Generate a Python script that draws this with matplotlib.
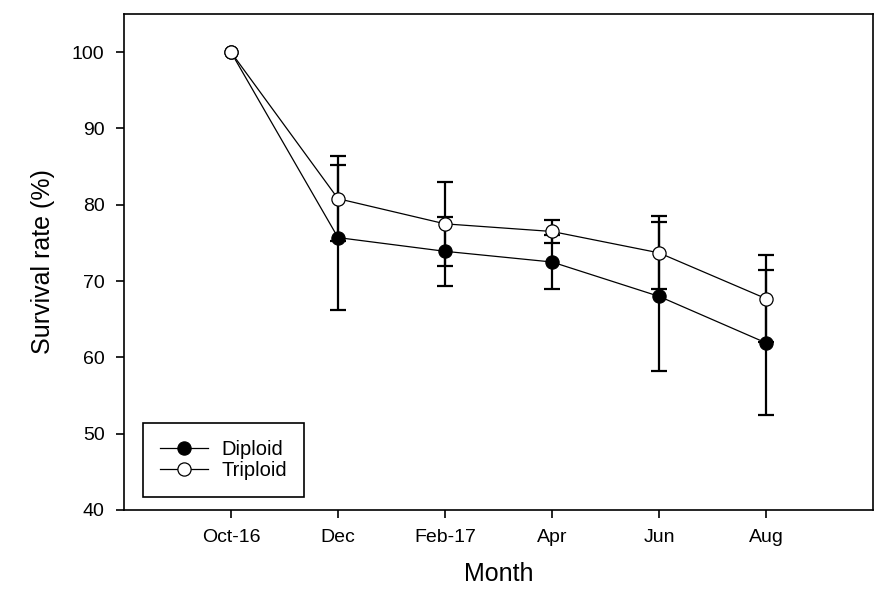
import matplotlib.pyplot as plt

plt.rcParams['font.family'] = ['Liberation Sans', 'DejaVu Sans']

months = ["Oct-16", "Dec", "Feb-17", "Apr", "Jun", "Aug"]
diploid = [100, 75.7, 73.9, 72.5, 68.0, 61.9]
diploid_err = [9.5, 4.5, 3.5, 9.8, 9.5]      # no bar at Oct-16
triploid = [100, 80.8, 77.5, 76.5, 73.7, 67.7]
triploid_err = [5.6, 5.5, 1.5, 4.8, 5.7]

x = list(range(len(months)))

fig = plt.figure(figsize=(8.83, 5.96), dpi=100)
ax = fig.add_axes([124/883, 1 - 510/596, 749/883, 496/596])

for vals, errs, face, name in [(diploid, diploid_err, 'black', 'Diploid'),
                               (triploid, triploid_err, 'white', 'Triploid')]:
    ax.errorbar(x[1:], vals[1:], yerr=errs, fmt='none', ecolor='black', elinewidth=1.6,
                capsize=6, capthick=1.6, zorder=2)
    ax.plot(x, vals, '-o', color='black', lw=0.9, markersize=9.5,
            markerfacecolor=face, markeredgecolor='black', markeredgewidth=0.9,
            label=name, zorder=3)

ax.set_xlim(-1, 6)
ax.set_ylim(40, 105)
ax.set_xticks(x)
ax.set_xticklabels(months)
ax.set_yticks(range(40, 101, 10))
ax.tick_params(direction='out', length=6, width=1.2, labelsize=14, pad=8)
for s in ax.spines.values():
    s.set_linewidth(1.2)

ax.set_xlabel("Month", fontsize=18, labelpad=11)
ax.set_ylabel("Survival rate (%)", fontsize=18, labelpad=12)

leg = ax.legend(loc='lower left', bbox_to_anchor=(0.025, 0.026), fontsize=14.5,
                fancybox=False, edgecolor='black', framealpha=1,
                handlelength=2.4, borderpad=0.85, labelspacing=0.1,
                borderaxespad=0, handletextpad=0.65)
leg.get_frame().set_linewidth(1.2)

fig.savefig("out.png", dpi=100)
